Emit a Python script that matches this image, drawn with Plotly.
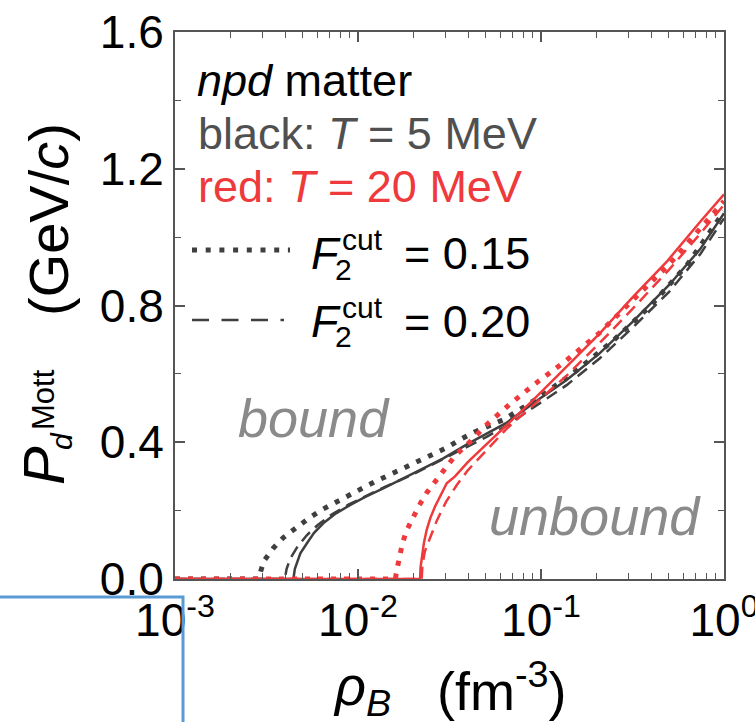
import plotly.graph_objects as go

# ---------------- data ----------------
# black: T = 5 MeV
rho_k_solid = [0.001, 0.004436, 0.004519, 0.004624, 0.004842, 0.005248, 0.005754, 0.006457,
               0.007586, 0.009036, 0.010965, 0.01374, 0.016982, 0.020941, 0.029242, 0.039811,
               0.053088, 0.063973, 0.1, 0.13804, 0.20893, 0.31623, 0.50119, 0.74131, 1.0]
P_k_solid = [0, 0, 0.03, 0.046, 0.075, 0.104, 0.135, 0.163,
             0.192, 0.216, 0.24, 0.265, 0.29, 0.314, 0.353, 0.395,
             0.431, 0.455, 0.53, 0.582, 0.66, 0.752, 0.86, 0.965, 1.07]

rho_k_dot = [0.001, 0.002851, 0.002911, 0.003062, 0.003443, 0.003908, 0.004624, 0.00542,
             0.006412, 0.007586, 0.008974, 0.010691, 0.012647, 0.015101, 0.017906, 0.021627,
             0.025586, 0.030549, 0.036475, 0.043652, 0.063096, 0.1, 0.15849, 0.25119,
             0.39811, 0.63096, 1.0]
P_k_dot = [0, 0, 0.015, 0.053, 0.09, 0.121, 0.151, 0.179,
           0.204, 0.226, 0.246, 0.267, 0.287, 0.307, 0.327, 0.345,
           0.365, 0.384, 0.409, 0.431, 0.467, 0.535, 0.612, 0.70,
           0.80, 0.92, 1.075]

rho_k_dash = [0.001, 0.003981, 0.004074, 0.004266, 0.004677, 0.005248, 0.006026, 0.007244,
              0.008913, 0.01122, 0.014125, 0.019953, 0.028184, 0.039811, 0.050119, 0.064565,
              0.087096, 0.13804, 0.20893, 0.31623, 0.50119, 0.74131, 1.0]
P_k_dash = [0, 0, 0.03, 0.06, 0.095, 0.128, 0.158, 0.19,
            0.218, 0.245, 0.27, 0.306, 0.347, 0.388, 0.415, 0.448,
            0.494, 0.567, 0.645, 0.735, 0.84, 0.95, 1.055]

# red: T = 20 MeV
rho_r_solid = [0.001, 0.021827, 0.021979, 0.022284, 0.022909, 0.023714, 0.024831, 0.026363,
               0.028184, 0.030549, 0.033884, 0.039811, 0.048306, 0.05821, 0.070307, 0.090782,
               0.13804, 0.20893, 0.31623, 0.48978, 0.74131, 1.0]
P_r_solid = [0, 0, 0.035, 0.065, 0.105, 0.143, 0.178, 0.212,
             0.245, 0.28, 0.30, 0.342, 0.385, 0.426, 0.47, 0.524,
             0.621, 0.718, 0.824, 0.93, 1.045, 1.125]

rho_r_dot = [0.001, 0.016032, 0.016144, 0.016596, 0.017338, 0.018281, 0.019815, 0.021627,
             0.023714, 0.026669, 0.029923, 0.033963, 0.039264, 0.050582, 0.067143, 0.090782,
             0.13804, 0.20893, 0.31623, 0.50119, 0.74131, 1.0]
P_r_dot = [0, 0, 0.015, 0.053, 0.095, 0.138, 0.178, 0.216,
           0.252, 0.288, 0.324, 0.361, 0.392, 0.452, 0.51, 0.567,
           0.64, 0.72, 0.815, 0.92, 1.025, 1.105]

rho_r_dash = [0.001, 0.022284, 0.022491, 0.023174, 0.024717, 0.026915, 0.0302, 0.034674,
              0.039811, 0.050119, 0.065013, 0.087096, 0.13804, 0.20893, 0.31623, 0.50119,
              0.74131, 1.0]
P_r_dash = [0, 0, 0.04, 0.08, 0.119, 0.17, 0.225, 0.275,
            0.318, 0.375, 0.44, 0.50, 0.595, 0.69, 0.79, 0.905,
            1.01, 1.095]

x_tickvals = [0.001, 0.01, 0.1, 1.0]
x_ticktext = ["10<sup>-3</sup>", "10<sup>-2</sup>", "10<sup>-1</sup>", "10<sup>0</sup>"]
x_minorvals = [m * d for d in (0.001, 0.01, 0.1) for m in range(2, 10)]
y_tickvals = [0.0, 0.4, 0.8, 1.2, 1.6]
y_ticktext = ["0.0", "0.4", "0.8", "1.2", "1.6"]
y_minorvals = [0.2, 0.6, 1.0, 1.4]

# ---------------- styling ----------------
BLACK = "#3f3f3f"
RED = "#ee3a3c"
GRAY = "#8a8a8a"
FONT = "Liberation Sans, Arial, sans-serif"
DOT = "5px,8px"
DASH = "12px,7px"

W, H = 755, 722
ML, MR, MT, MB = 175, 31, 32, 143
PW, PH = W - ML - MR, H - MT - MB


def px(xp):
    return (xp - ML) / PW


def py(yp):
    return (H - MB - yp) / PH


fig = go.Figure()

series = [
    (rho_k_dot, P_k_dot, BLACK, 5, DOT),
    (rho_k_dash, P_k_dash, BLACK, 2.5, DASH),
    (rho_k_solid, P_k_solid, BLACK, 2.5, "solid"),
    (rho_r_dot, P_r_dot, RED, 5, DOT),
    (rho_r_dash, P_r_dash, RED, 2.5, DASH),
    (rho_r_solid, P_r_solid, RED, 2.5, "solid"),
]
for xs, ys, col, w, d in series:
    fig.add_trace(go.Scatter(x=xs, y=ys, mode="lines",
                             line=dict(color=col, width=w, dash=d),
                             showlegend=False, hoverinfo="skip"))

ann = []


def text(x, y, s, size, color="black", xanchor="center", yanchor="middle", angle=0):
    ann.append(dict(x=x, y=y, xref="paper", yref="paper", text=s, showarrow=False,
                    xanchor=xanchor, yanchor=yanchor, textangle=angle,
                    font=dict(family=FONT, size=size, color=color)))


# legend-like texts inside the plot
text(px(195), py(80), "<i>npd</i> matter", 45, "black", "left")
text(px(196), py(133), "black: <i>T</i> = 5 MeV", 45, "#505050", "left")
text(px(196), py(187), "red: <i>T</i> = 20 MeV", 45, RED, "left")
# F2cut lines
for yb, val in [(253, "= 0.15"), (321, "= 0.20")]:
    text(px(326), py(yb), "<i>F</i>", 45, "black")
    text(px(343), py(yb + 16), "2", 30, "black")
    text(px(362), py(yb - 14), "cut", 30, "black")
    text(px(402), py(yb), val, 45, "black", "left")

text(px(314), py(418), "<i>bound</i>", 54, GRAY)
text(px(595), py(516), "<i>unbound</i>", 54, GRAY)

# axis titles
text(px(49), py(220), "(GeV/<i>c</i>)", 56, "black", angle=-90)
text(px(43), py(466), "<i>P</i>", 58, "black", angle=-90)
text(px(61), py(441), "<i>d</i>", 30, "black", angle=-90)
text(px(43), py(400), "Mott", 31, "black", angle=-90)
text(px(362), py(690), "<i>ρ</i><sub><i>B</i></sub>", 54, "black")
text(px(502), py(687), "(fm<sup>-3</sup>)", 54, "black")

shapes = [
    dict(type="line", xref="paper", yref="paper", x0=px(192), x1=px(290), y0=py(250), y1=py(250),
         line=dict(color=BLACK, width=5, dash="5px,8.7px")),
    dict(type="line", xref="paper", yref="paper", x0=px(192), x1=px(284), y0=py(320), y1=py(320),
         line=dict(color=BLACK, width=2.5, dash="17px,12.5px")),
    # blue frame fragment in the lower-left corner
    dict(type="rect", xref="paper", yref="paper", x0=px(-10), x1=px(183), y0=py(740), y1=py(597),
         line=dict(color="#5b9bd5", width=3), fillcolor="rgba(0,0,0,0)"),
]

axis_common = dict(
    showline=True, linecolor="#555555", linewidth=2, mirror="ticks",
    ticks="inside", ticklen=10, tickwidth=1.5, tickcolor="#555555",
    showgrid=False, zeroline=False, ticklabeloverflow="allow", automargin=False,
    tickfont=dict(family=FONT, size=46, color="black"),
)

fig.update_layout(
    width=W, height=H,
    margin=dict(l=ML, r=MR, t=MT, b=MB, pad=0, autoexpand=False),
    paper_bgcolor="white", plot_bgcolor="white",
    xaxis=dict(type="log", range=[-3, 0], tickmode="array", tickvals=x_tickvals,
               ticktext=x_ticktext,
               minor=dict(ticks="inside", ticklen=6, tickwidth=1.2, tickcolor="#555555",
                          tickmode="array", tickvals=x_minorvals, showgrid=False),
               **axis_common),
    yaxis=dict(range=[0, 1.6], tickmode="array", tickvals=y_tickvals, ticktext=y_ticktext,
               minor=dict(ticks="inside", ticklen=6, tickwidth=1.2, tickcolor="#555555",
                          tickmode="array", tickvals=y_minorvals, showgrid=False),
               **axis_common),
    annotations=ann,
    shapes=shapes,
    showlegend=False,
)

fig.write_html("out.html")
